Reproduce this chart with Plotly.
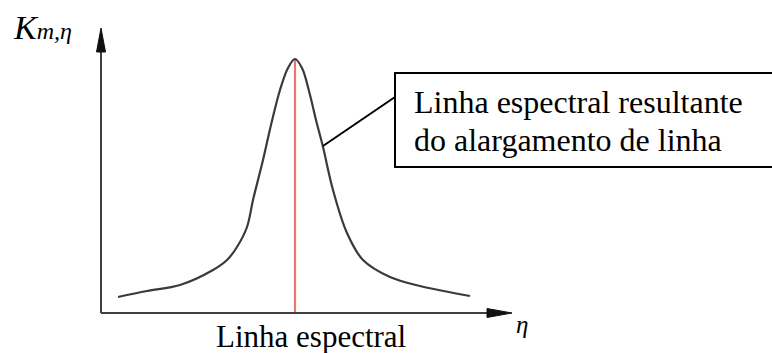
import plotly.graph_objects as go

# Curve data (eta, K); origin at axes intersection
eta = [17, 46, 79, 112, 126, 136, 146, 152, 162, 170, 179, 187, 194,
       201, 209, 215, 222, 232, 246, 262, 289, 319, 369]
K = [16, 22, 28, 43, 53, 66, 86, 113, 153, 188, 223, 245, 254,
     245, 218, 193, 166, 123, 80, 53, 36, 27, 17]
center_eta = [194, 194]
center_K = [0, 254]
callout_text = ["Linha espectral resultante", "do alargamento de linha"]
bottom_label = "Linha espectral"

W, H = 772, 353
X0, Y0 = 101, 313  # pixel position of origin
xr = [-X0, W - X0]
yr = [-(H - Y0), Y0]

fig = go.Figure()
fig.add_trace(go.Scatter(x=center_eta, y=center_K, mode="lines",
                         line=dict(color="#f07373", width=2.2), hoverinfo="skip"))
fig.add_trace(go.Scatter(x=eta, y=K, mode="lines", line_shape="spline",
                         line=dict(color="#3a3a3a", width=2.2, smoothing=1.0),
                         hoverinfo="skip"))

shapes = []
ax_col = "#404040"
# y axis
shapes.append(dict(type="line", x0=0, y0=0, x1=0, y1=265, line=dict(color=ax_col, width=2)))
shapes.append(dict(type="path", path="M -4.5 261 L 0 285 L 4.5 261 Z",
                   fillcolor="#111", line=dict(color="#111", width=1)))
# x axis
shapes.append(dict(type="line", x0=0, y0=0, x1=390, y1=0, line=dict(color=ax_col, width=2)))
shapes.append(dict(type="path", path="M 386 4.5 L 411 0 L 386 -4.5 Z",
                   fillcolor="#111", line=dict(color="#111", width=1)))
# callout box
shapes.append(dict(type="rect", x0=294, y0=146, x1=680, y1=240,
                   line=dict(color="black", width=2), fillcolor="rgba(0,0,0,0)"))
# connector
shapes.append(dict(type="line", x0=222, y0=167, x1=294, y1=216,
                   line=dict(color="black", width=2)))

serif = "Times New Roman, Liberation Serif, DejaVu Serif, serif"
ann = []
ann.append(dict(x=311, y=211, text=callout_text[0], showarrow=False, xanchor="left",
                yanchor="middle", font=dict(family=serif, size=32, color="black")))
ann.append(dict(x=311, y=173, text=callout_text[1], showarrow=False, xanchor="left",
                yanchor="middle", font=dict(family=serif, size=32, color="black")))
ann.append(dict(x=210, y=-4, text=bottom_label, showarrow=False, xanchor="center",
                yanchor="top", font=dict(family=serif, size=31, color="black")))
ann.append(dict(x=-90, y=286, text="<i>K</i><span style='font-size:24px'><i>m,η</i></span>",
                showarrow=False, xanchor="left", yanchor="middle",
                font=dict(family=serif, size=34, color="black")))
ann.append(dict(x=413, y=-11, text="<i>η</i>", showarrow=False, xanchor="left",
                yanchor="middle", font=dict(family=serif, size=25, color="black")))

fig.update_layout(width=W, height=H, margin=dict(l=0, r=0, t=0, b=0),
                  paper_bgcolor="white", plot_bgcolor="white", showlegend=False,
                  shapes=shapes, annotations=ann,
                  xaxis=dict(range=xr, visible=False, fixedrange=True),
                  yaxis=dict(range=yr, visible=False, fixedrange=True))
fig.write_html("out.html")
